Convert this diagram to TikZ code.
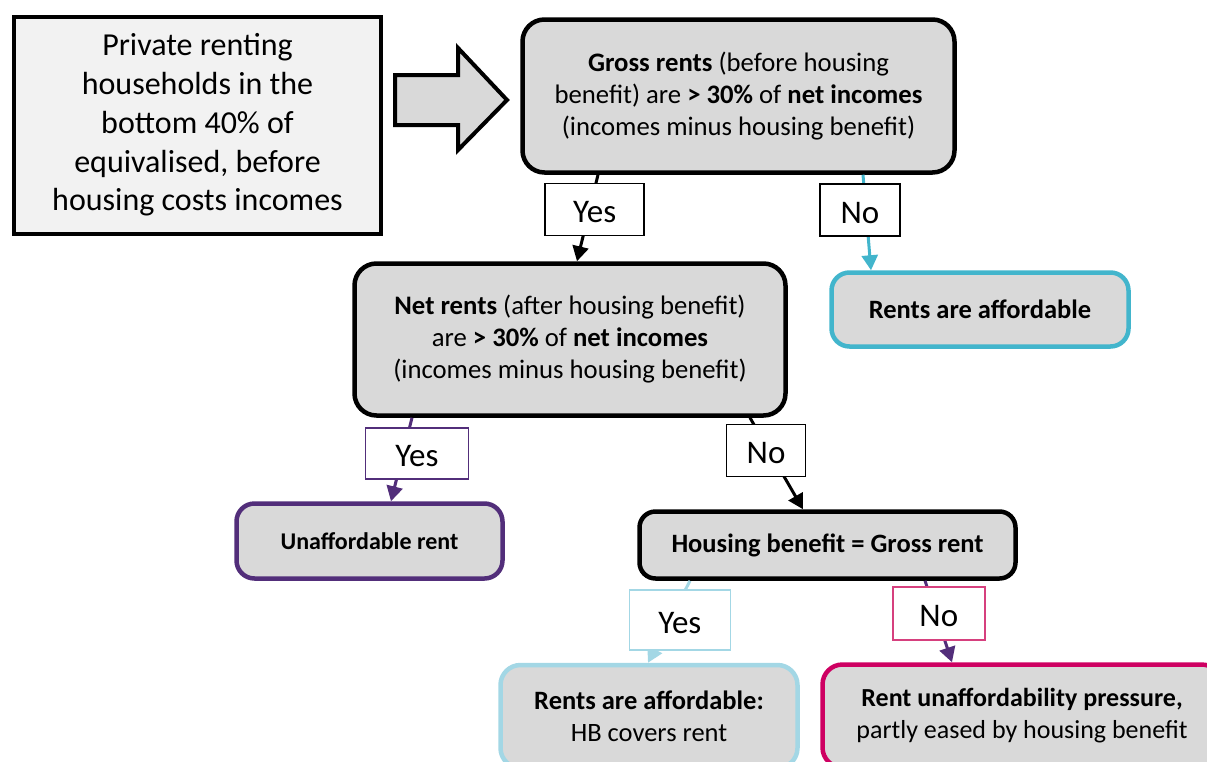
\documentclass[tikz,border=0pt]{standalone}
\usepackage{fontspec}
\setmainfont{Carlito}
\usetikzlibrary{arrows.meta, calc}
\definecolor{boxgray}{RGB}{217,217,217}
\definecolor{startgray}{RGB}{242,242,242}
\definecolor{hbcyan}{RGB}{66,181,204}
\definecolor{hbpurple}{RGB}{82,46,122}
\definecolor{hblight}{RGB}{163,215,229}
\definecolor{hbpink}{RGB}{206,0,98}
\definecolor{hbpinklt}{RGB}{214,64,126}

\begin{document}
\begin{tikzpicture}[
        x=1pt, y=-1pt,
        box/.style={draw, line width=4.5pt, rounded corners=22pt, fill=boxgray, align=center, inner sep=0pt},
        startbox/.style={draw, line width=4pt, fill=startgray, align=center, inner sep=0pt,
            font=\fontsize{32}{38.8}\selectfont},
        bigtext/.style={font=\fontsize{26.7}{32}\selectfont},
        smalltext/.style={font=\fontsize{26.5}{32}\selectfont},
        lbl/.style={draw, fill=white, line width=1.5pt, inner sep=0pt, text height=26pt, text depth=0pt,
            font=\fontsize{33}{36}\selectfont},
        arrow/.style={-{Triangle[length=15pt, width=16pt]}, line width=3pt}
    ]
    \useasboundingbox (0,0) rectangle (1207,761);
    \clip (0,0) rectangle (1207,761);

    % Define the blocks
    \node[startbox, minimum width=367, minimum height=217] (start) at (197.5,125)
        {Private renting\\households in the\\bottom 40\% of\\equivalised, before\\housing costs incomes};
    \node[box, bigtext, minimum width=432, minimum height=153] (gross) at (738.5,96)
        {\textbf{Gross rents} (before housing\\benefit) are \textbf{> 30\%} of \textbf{net incomes}\\(incomes minus housing benefit)};
    \node[box, bigtext, minimum width=431, minimum height=152] (net) at (570,339.5)
        {\textbf{Net rents} (after housing benefit)\\are \textbf{> 30\%} of \textbf{net incomes}\\(incomes minus housing benefit)};
    \node[box, smalltext, draw=hbcyan, minimum width=297, minimum height=74, rounded corners=18pt] (afford) at (980,309.5)
        {\textbf{Rents are affordable}};
    \node[box, font=\fontsize{24}{28}\selectfont, draw=hbpurple, minimum width=266, minimum height=75, rounded corners=18pt] (unaff) at (369.5,541)
        {\textbf{Unaffordable rent}};
    \node[box, smalltext, minimum width=376, minimum height=67, rounded corners=16pt] (hbeq) at (827.5,545)
        {\textbf{Housing benefit = Gross rent}};
    \node[box, smalltext, draw=hblight, minimum width=297, minimum height=103, rounded corners=20pt] (covers) at (649,716.5)
        {\textbf{Rents are affordable:}\\HB covers rent};
    \node[box, font=\fontsize{26}{32}\selectfont, draw=hbpink, minimum width=399, minimum height=103, rounded corners=20pt] (pressure) at (1022,716)
        {\textbf{Rent unaffordability pressure,}\\partly eased by housing benefit};

    % Block arrow into the first question
    \draw[line width=4pt, fill=boxgray, line join=miter]
        (395,75) -- (458,75) -- (458,48) -- (507,100) -- (458,150) -- (458,125) -- (395,125) -- cycle;

    % Draw the connecting arrows
    \draw[arrow] ([xshift=-140.5]gross.south) -- node[lbl, pos=0.4, xshift=5, minimum width=99, minimum height=52] {Yes} ([xshift=7]net.north);
    \draw[arrow, hbcyan] ([xshift=124.5]gross.south) -- node[lbl, draw=black, text=black, pos=0.37, xshift=-6, minimum width=80, minimum height=52] {No} ([xshift=-109]afford.north);
    \draw[arrow, hbpurple] ([xshift=-158]net.south) -- node[lbl, text=black, pos=0.43, xshift=14, minimum width=103, minimum height=51] {Yes} ([xshift=21.5]unaff.north);
    \draw[arrow] ([xshift=180]net.south) -- node[lbl, pos=0.36, xshift=-3, minimum width=79, minimum height=52] {No} ([xshift=-24.5]hbeq.north);
    \draw[arrow, hblight] ([xshift=-137.5]hbeq.south) -- node[lbl, text=black, pos=0.48, xshift=10, minimum width=101, minimum height=60] {Yes} ([xshift=-1]covers.north);
    \draw[arrow, hbpurple] ([xshift=97.5]hbeq.south) -- node[lbl, draw=hbpinklt, text=black, pos=0.4, xshift=3, minimum width=92, minimum height=53] {No} ([xshift=-70]pressure.north);

\end{tikzpicture}
\end{document}
